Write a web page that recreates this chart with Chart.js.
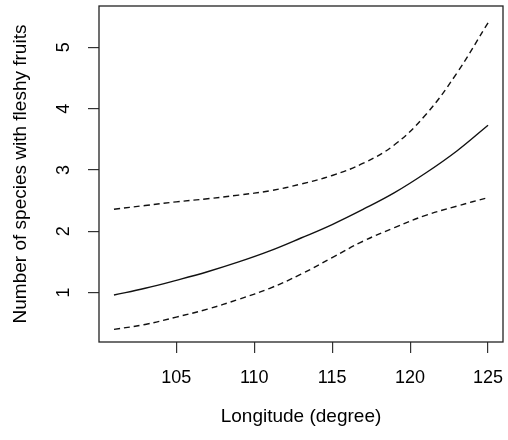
<!DOCTYPE html>
<html>
<head>
<meta charset="utf-8">
<script src="https://cdn.jsdelivr.net/npm/chart.js@4/dist/chart.umd.min.js"></script>
<style>
  html, body { margin: 0; padding: 0; background: #fff; }
  #wrap { width: 508px; height: 440px; }
</style>
</head>
<body>
<div id="wrap"><canvas id="chart"></canvas></div>
<script>
// values
const longitude = [101, 103, 105, 107, 109, 111, 113, 115, 117, 119, 121, 123, 125];
const fitted    = [0.96, 1.07, 1.20, 1.34, 1.50, 1.68, 1.89, 2.11, 2.36, 2.63, 2.95, 3.31, 3.73];
const upperCI   = [2.36, 2.42, 2.48, 2.53, 2.59, 2.66, 2.77, 2.91, 3.11, 3.41, 3.90, 4.58, 5.40];
const lowerCI   = [0.40, 0.48, 0.60, 0.73, 0.89, 1.07, 1.30, 1.57, 1.84, 2.06, 2.26, 2.41, 2.55];
const xTicks = [105, 110, 115, 120, 125];
const yTicks = [1, 2, 3, 4, 5];

const pts = ys => longitude.map((x, i) => ({ x: x, y: ys[i] }));
const family = "'Liberation Sans', Arial, sans-serif";

// box around the plot region, like R's box()
const boxPlugin = {
  id: 'box',
  afterDraw(c) {
    const a = c.chartArea, ctx = c.ctx;
    ctx.save();
    ctx.strokeStyle = '#222';
    ctx.lineWidth = 1.3;
    ctx.strokeRect(a.left, a.top, a.right - a.left, a.bottom - a.top);
    ctx.restore();
  }
};

// fixed axis sizes, no extra room for label overhang
const fixSize = (s, prop, size) => {
  s[prop] = size;
  s.paddingTop = 0; s.paddingBottom = 0; s.paddingLeft = 0; s.paddingRight = 0;
};

const line = (data, dash) => ({
  data: pts(data),
  borderColor: '#111',
  borderWidth: 1.4,
  borderDash: dash,
  pointRadius: 0,
  tension: 0.4,
  fill: false
});

new Chart(document.querySelector('#chart').getContext('2d'), {
  type: 'line',
  data: {
    datasets: [
      line(fitted, []),
      line(upperCI, [6, 4]),
      line(lowerCI, [6, 4])
    ]
  },
  options: {
    responsive: true,
    maintainAspectRatio: false,
    animation: false,
    layout: { autoPadding: false, padding: { top: 6, right: 5, left: 0, bottom: 0 } },
    plugins: { legend: { display: false }, tooltip: { enabled: false } },
    scales: {
      x: {
        type: 'linear',
        min: 100.04,
        max: 125.96,
        afterBuildTicks: s => { s.ticks = xTicks.map(v => ({ value: v })); },
        afterFit: s => fixSize(s, 'height', 98),
        grid: { drawOnChartArea: false, drawTicks: true, tickLength: 11, color: '#333', lineWidth: 1.2 },
        border: { display: false },
        ticks: { color: '#000', font: { family: family, size: 18 }, padding: 14, maxRotation: 0, autoSkip: false },
        title: { display: true, text: 'Longitude (degree)', color: '#000', font: { family: family, size: 19 }, padding: { top: 0, bottom: 12 } }
      },
      y: {
        type: 'linear',
        min: 0.194,
        max: 5.674,
        afterBuildTicks: s => { s.ticks = yTicks.map(v => ({ value: v })); },
        afterFit: s => fixSize(s, 'width', 99),
        grid: { drawOnChartArea: false, drawTicks: true, tickLength: 11, color: '#333', lineWidth: 1.2 },
        border: { display: false },
        ticks: { color: '#000', font: { family: family, size: 18 }, padding: 19, minRotation: 90, maxRotation: 90, crossAlign: 'center', autoSkip: false },
        title: { display: true, text: 'Number of species with fleshy fruits', color: '#000', font: { family: family, size: 19 }, padding: { top: 9, bottom: 0 } }
      }
    }
  },
  plugins: [boxPlugin]
});
</script>
</body>
</html>
